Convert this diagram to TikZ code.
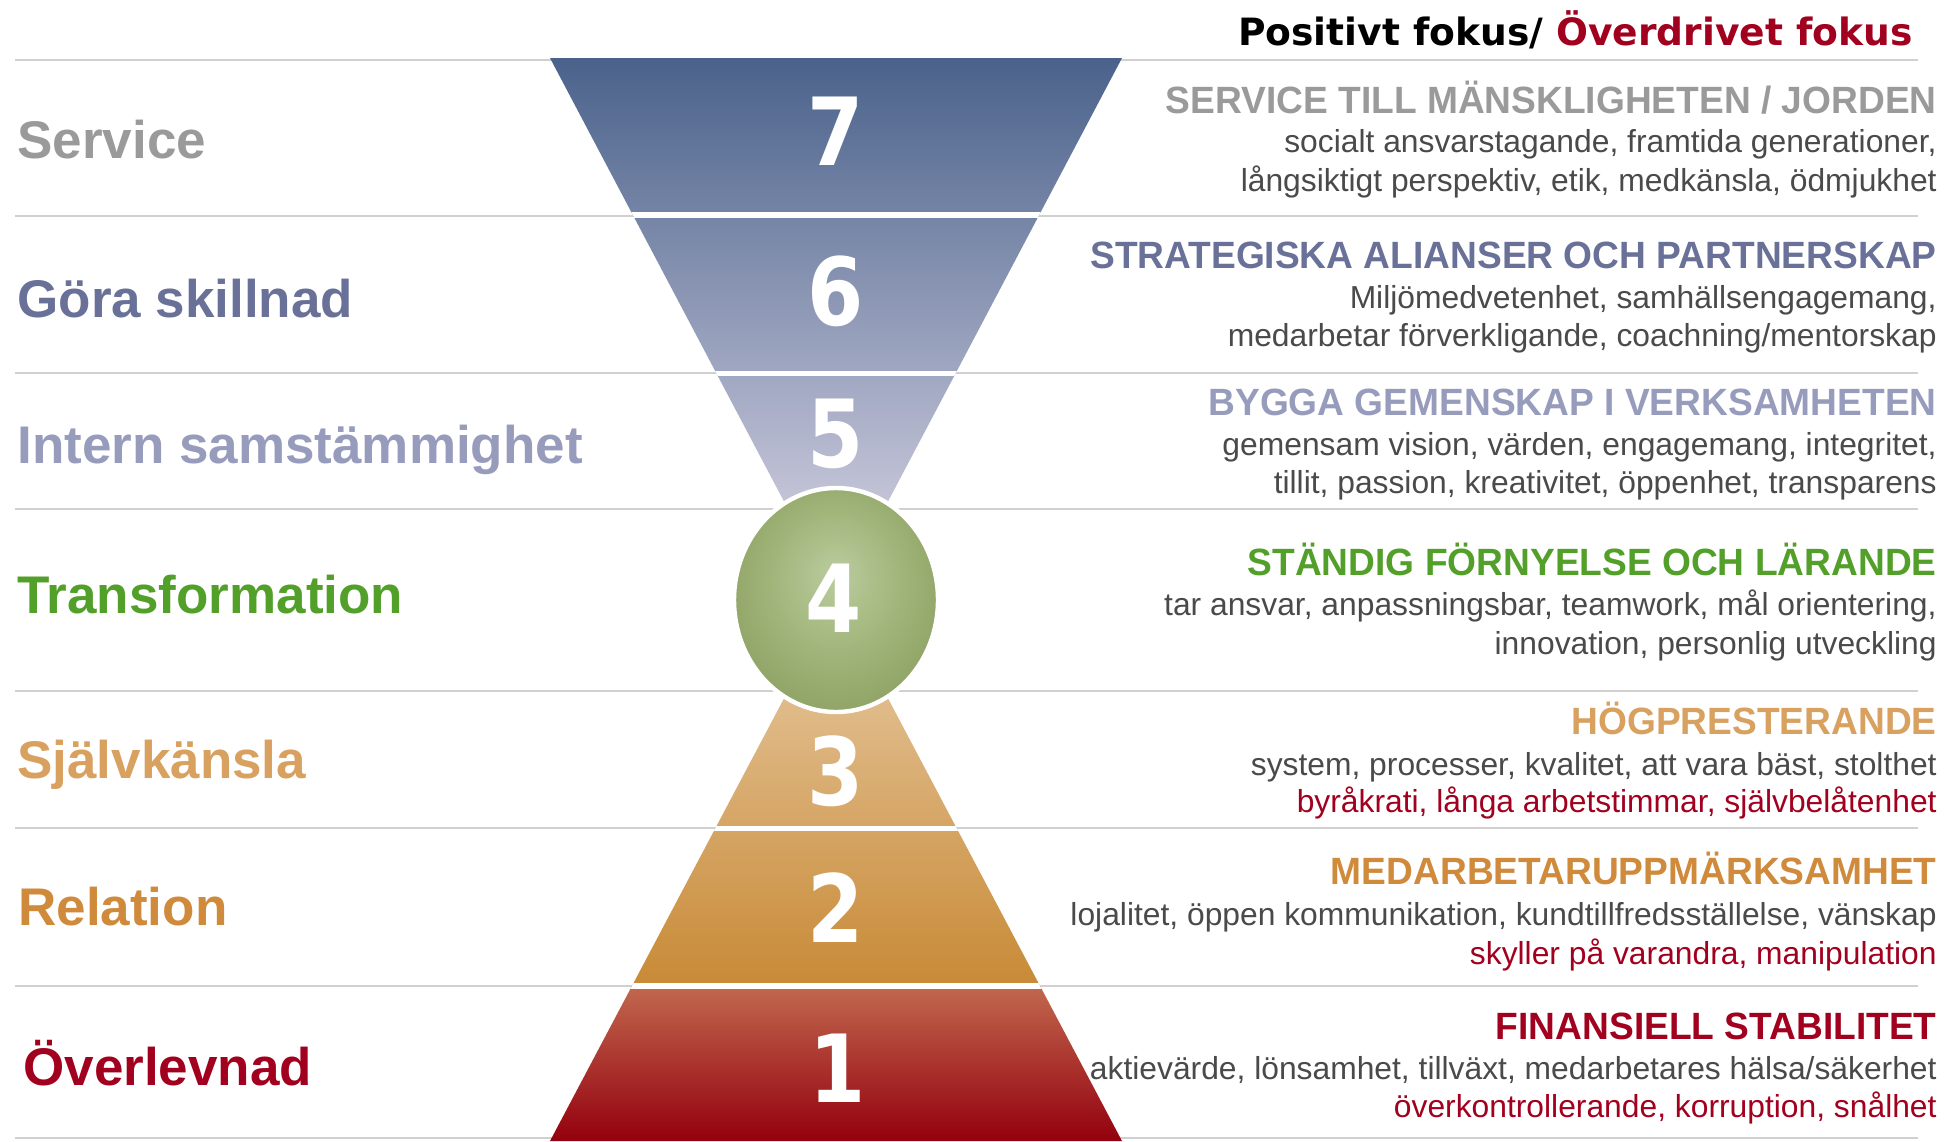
\documentclass[tikz,border=0pt]{standalone}
\usepackage{fontspec}
\setmainfont{Liberation Sans}
\newfontfamily\hdfont[FakeStretch=0.977]{Liberation Sans}
\newfontfamily\numfont[FakeStretch=0.86]{DejaVu Sans}
\newfontfamily\ttlfont{DejaVu Sans}
\definecolor{svcgray}{HTML}{9A9A9A}
\definecolor{slate}{HTML}{6A7198}
\definecolor{lav}{HTML}{979CBD}
\definecolor{grn}{HTML}{52A02A}
\definecolor{sand}{HTML}{D8A160}
\definecolor{orng}{HTML}{CF8A3B}
\definecolor{dred}{HTML}{A2001F}
\definecolor{bodygray}{HTML}{4A4A4A}
\definecolor{sepgray}{HTML}{D0D0D0}
\definecolor{tritop}{RGB}{74,98,139}
\definecolor{tribot}{RGB}{222,217,232}
\definecolor{pyrtop}{RGB}{232,204,167}
\definecolor{pyrbot}{RGB}{200,138,54}
\definecolor{redtop}{RGB}{193,104,78}
\definecolor{redmid}{RGB}{160,22,24}
\definecolor{redbot}{RGB}{148,0,14}
\pgfdeclareradialshading{ballg}{\pgfpoint{0bp}{6bp}}{rgb(0bp)=(0.73,0.80,0.62); rgb(16bp)=(0.63,0.71,0.48); rgb(34bp)=(0.535,0.61,0.365); rgb(50bp)=(0.525,0.60,0.35)}
\begin{document}
\begin{tikzpicture}[x=0.5pt,y=-0.5pt,
  hd/.style={anchor=base east, inner sep=0pt, font=\hdfont\bfseries\fontsize{19pt}{22pt}\selectfont},
  bd/.style={anchor=base east, inner sep=0pt, font=\fontsize{15.9pt}{19pt}\selectfont, text=bodygray},
  rd/.style={bd, text=dred},
  lb/.style={anchor=base west, inner sep=0pt, font=\bfseries\fontsize{26.5pt}{30pt}\selectfont},
  num/.style={anchor=base, inner sep=0pt, text=white, font=\numfont\bfseries\fontsize{47pt}{50pt}\selectfont},
  sep/.style={draw=sepgray, line width=1pt},
  gap/.style={draw=white, line width=2.6pt}]
\useasboundingbox (0,0) rectangle (1957,1141);
\fill[white] (0,0) rectangle (1957,1141);
% separator lines
\foreach \yy in {60,216,373,509,691,828,986,1138}{
  \draw[sep] (15,\yy) -- (1918,\yy);
}
% top inverted triangle
\begin{scope}
  \clip (550,58) -- (1122,58) -- (836,600) -- cycle;
  \shade[top color=tritop, bottom color=tribot] (540,58) rectangle (1132,600);
  \draw[gap] (540,215) -- (1132,215);
  \draw[gap] (540,373.5) -- (1132,373.5);
\end{scope}
% bottom pyramid
\begin{scope}
  \clip (550,1141) -- (1122,1141) -- (836,600) -- cycle;
  \shade[top color=pyrtop, bottom color=pyrbot] (540,600) rectangle (1132,986);
  \shade[top color=redtop, middle color=redmid, bottom color=redbot] (540,986) rectangle (1132,1141);
  \draw[gap] (540,828.5) -- (1132,828.5);
  \draw[gap] (540,986) -- (1132,986);
\end{scope}
% circle 4
\coordinate (c4) at (836,600);
\shade[shading=ballg] (c4) ellipse [x radius=101, y radius=111];
\draw[white, line width=2.2pt] (c4) ellipse [x radius=102, y radius=112];
% numbers
\node[num] (n7) at (836,165) {7};
\node[num] (n6) at (836,325) {6};
\node[num] (n5) at (836,467) {5};
\node[num] (n4) at (834,632) {4};
\node[num] (n3) at (836,805) {3};
\node[num] (n2) at (836,942) {2};
\node[num] (n1) at (838,1102) {1};
% left labels
\node[lb, text=svcgray] (l7) at (17,158) {Service};
\node[lb, text=slate] (l6) at (17,317) {Göra skillnad};
\node[lb, text=lav] (l5) at (17,463) {Intern samstämmighet};
\node[lb, text=grn] (l4) at (17,613) {Transformation};
\node[lb, text=sand] (l3) at (17,778) {Självkänsla};
\node[lb, text=orng] (l2) at (18,925) {Relation};
\node[lb, text=dred] (l1) at (23,1085) {Överlevnad};
% title
\node[anchor=base east, inner sep=0pt, font=\ttlfont\bfseries\fontsize{18.8pt}{22pt}\selectfont] (ttl) at (1913,45) {Positivt fokus/ \textcolor{dred}{Överdrivet fokus}};
% right blocks
\node[hd, text=svcgray] (h7) at (1937,113) {SERVICE TILL MÄNSKLIGHETEN / JORDEN};
\node[bd] (b7a) at (1937,152) {socialt ansvarstagande, framtida generationer,};
\node[bd] (b7b) at (1937,191) {långsiktigt perspektiv, etik, medkänsla, ödmjukhet};
\node[hd, text=slate] (h6) at (1937,268) {STRATEGISKA ALIANSER OCH PARTNERSKAP};
\node[bd] (b6a) at (1937,308) {Miljömedvetenhet, samhällsengagemang,};
\node[bd] (b6b) at (1937,346) {medarbetar förverkligande, coachning/mentorskap};
\node[hd, text=lav] (h5) at (1937,415) {BYGGA GEMENSKAP I VERKSAMHETEN};
\node[bd] (b5a) at (1937,455) {gemensam vision, värden, engagemang, integritet,};
\node[bd] (b5b) at (1937,493) {tillit, passion, kreativitet, öppenhet, transparens};
\node[hd, text=grn] (h4) at (1937,575) {STÄNDIG FÖRNYELSE OCH LÄRANDE};
\node[bd] (b4a) at (1937,615) {tar ansvar, anpassningsbar, teamwork, mål orientering,};
\node[bd] (b4b) at (1937,654) {innovation, personlig utveckling};
\node[hd, text=sand] (h3) at (1937,734) {HÖGPRESTERANDE};
\node[bd] (b3a) at (1937,775) {system, processer, kvalitet, att vara bäst, stolthet};
\node[rd] (b3b) at (1937,812) {byråkrati, långa arbetstimmar, självbelåtenhet};
\node[hd, text=orng] (h2) at (1937,884) {MEDARBETARUPPMÄRKSAMHET};
\node[bd] (b2a) at (1937,925) {lojalitet, öppen kommunikation, kundtillfredsställelse, vänskap};
\node[rd] (b2b) at (1937,964) {skyller på varandra, manipulation};
\node[hd, text=dred] (h1) at (1937,1039) {FINANSIELL STABILITET};
\node[bd] (b1a) at (1937,1079) {aktievärde, lönsamhet, tillväxt, medarbetares hälsa/säkerhet};
\node[rd] (b1b) at (1937,1117) {överkontrollerande, korruption, snålhet};
\end{tikzpicture}
\end{document}
